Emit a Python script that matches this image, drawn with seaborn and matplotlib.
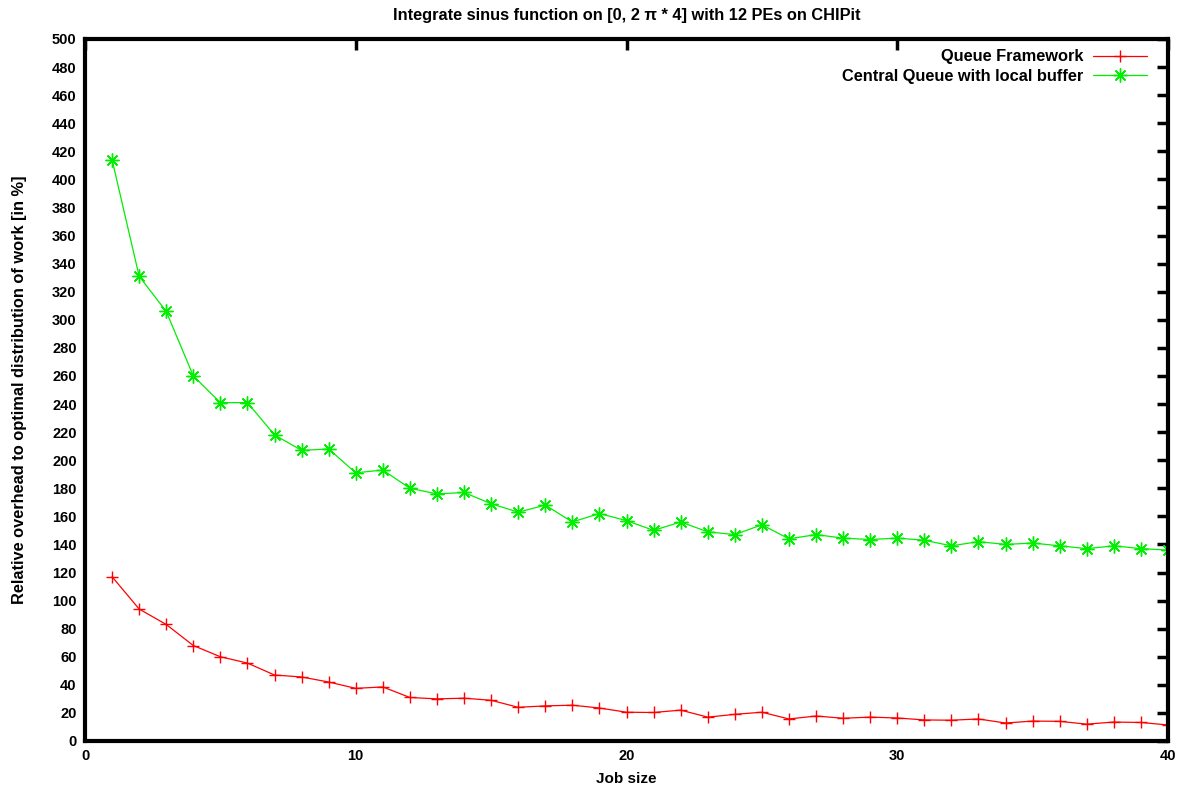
import matplotlib
matplotlib.use("Agg")
import matplotlib.pyplot as plt
import seaborn as sns
import pandas as pd
import numpy as np

job_size = list(range(1, 41))
queue_framework = [117, 94, 83, 68, 60, 55.5, 47, 45.6, 42, 37.5,
                   38.5, 31, 30, 30.5, 29, 24, 25, 25.5, 23.5, 20.5,
                   20.3, 22, 17, 19, 20.5, 15.7, 17.8, 16.2, 17, 16.4,
                   15, 14.8, 15.7, 12.8, 14.2, 14, 12, 13.5, 13.2, 11.4]
central_queue = [414, 331, 306, 260, 241, 241, 218, 207, 208, 191,
                 193, 180, 176, 177, 169, 163, 168, 156, 162, 157,
                 150, 156, 149, 147, 154, 144, 147, 144.5, 143.5, 144.5,
                 143, 139, 142, 140, 141, 139, 137, 139, 137, 136]
series_names = ["Queue Framework", "Central Queue with local buffer"]

sns.set_style("white")
plt.rcParams['font.family'] = ['Liberation Sans', 'DejaVu Sans']
plt.rcParams['font.weight'] = 'bold'
plt.rcParams['text.color'] = 'black'
plt.rcParams['axes.labelcolor'] = 'black'
plt.rcParams['xtick.color'] = 'black'
plt.rcParams['ytick.color'] = 'black'

fig = plt.figure(figsize=(11.87, 7.91), dpi=100)
ax = fig.add_axes([85/1187, 50/791, (1168-85)/1187, (741-39)/791])

df = pd.DataFrame({"x": job_size, "qf": queue_framework, "cq": central_queue})
sns.lineplot(data=df, x="x", y="qf", ax=ax, color="#ff0000", linewidth=0.9,
             marker="+", markersize=8, markeredgewidth=1.0,
             markeredgecolor="#ff0000", label=series_names[0])
sns.lineplot(data=df, x="x", y="cq", ax=ax, color="#00ee00", linewidth=0.9,
             marker=(8, 2, 0), markersize=10, markeredgewidth=1.0,
             markeredgecolor="#00ee00", label=series_names[1])

ax.set_xlim(0, 40)
ax.set_ylim(0, 500)
ax.set_xticks(np.arange(0, 41, 10))
ax.set_yticks(np.arange(0, 501, 20))
ax.tick_params(direction='in', length=8, width=2.5, top=True, right=True,
               labelsize=10.5, pad=6, colors='black')
for lab in ax.get_xticklabels() + ax.get_yticklabels():
    lab.set_fontweight('bold')
for sp in ax.spines.values():
    sp.set_linewidth(3)
    sp.set_color('black')

ax.set_xlabel("Job size", fontsize=11, fontweight='bold', labelpad=6,
              color='black')
ax.set_ylabel("Relative overhead to optimal distribution of work [in %]",
              fontsize=11.8, fontweight='bold', labelpad=18, color='black')
ax.set_title("Integrate sinus function on [0, 2 π * 4] with 12 PEs on CHIPit",
             fontsize=11.8, fontweight='bold', pad=14, color='black')

leg = ax.legend(loc='upper right', frameon=False, markerfirst=False,
                fontsize=11.8, handlelength=3.3, borderaxespad=0.4,
                labelspacing=0.3, handletextpad=0.6,
                bbox_to_anchor=(0.993, 1.004))
for t in leg.get_texts():
    t.set_fontweight('bold')
    t.set_color('black')
    t.set_ha('right')

fig.savefig("out.png", dpi=100)
